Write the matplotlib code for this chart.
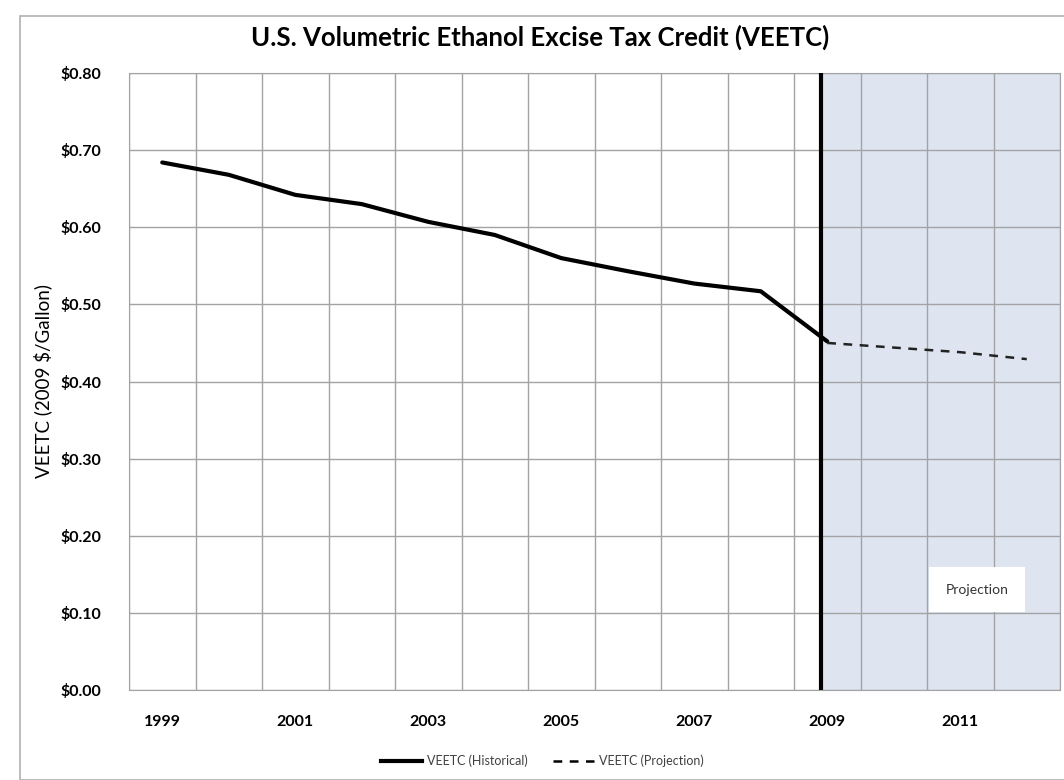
import matplotlib.pyplot as plt
from matplotlib.patches import Rectangle
from matplotlib.lines import Line2D

plt.rcParams['font.family'] = ['Lato', 'DejaVu Sans']

# データ
years = [1999, 2000, 2001, 2002, 2003, 2004, 2005, 2006,
         2007, 2008, 2009, 2010, 2011, 2012]
hist_years = [1999, 2000, 2001, 2002, 2003, 2004, 2005, 2006, 2007, 2008, 2009]
hist_vals = [0.684, 0.668, 0.642, 0.630, 0.607, 0.590, 0.560, 0.543, 0.527, 0.517, 0.452]
proj_years = [2009, 2010, 2011, 2012]
proj_vals = [0.450, 0.444, 0.438, 0.429]
y_ticks = [0.0, 0.1, 0.2, 0.3, 0.4, 0.5, 0.6, 0.7, 0.8]
x_labels = ['1999', '2001', '2003', '2005', '2007', '2009', '2011']

idx = {y: i for i, y in enumerate(years)}

fig = plt.figure(figsize=(10.64, 7.8), dpi=100)
ax = fig.add_axes([129 / 1064, 1 - 690 / 780, 931 / 1064, 617 / 780])

# 外枠
fig.patches.append(Rectangle((20 / 1064, 0), 1.0, 1 - 16 / 780, transform=fig.transFigure,
                             fill=False, edgecolor='#b0b0b0', lw=1.2))

# 予測期間の背景
split = 9.9
ax.axvspan(split, len(years) - 0.5, color='#dee5f1', zorder=0)

# グリッド（カテゴリ境界）
for b in range(len(years) + 1):
    ax.axvline(b - 0.5, color='#a3a3a3', lw=1.0, zorder=1)
for t in y_ticks:
    ax.axhline(t, color='#a3a3a3', lw=1.0, zorder=1)

ax.plot([idx[y] for y in hist_years], hist_vals, color='black', lw=3, zorder=3,
        solid_capstyle='round')
ax.plot([idx[y] for y in proj_years], proj_vals, color='#222222', lw=1.8, ls=(0, (3.5, 3)),
        zorder=3)
ax.axvline(split, color='black', lw=3, zorder=4)

ax.set_xlim(-0.5, len(years) - 0.5)
ax.set_ylim(0, 0.8)
ax.set_yticks(y_ticks)
ax.set_yticklabels([f'${t:.2f}' for t in y_ticks], fontsize=11.5, fontweight='bold')
ax.set_xticks([idx[int(l)] for l in x_labels])
ax.set_xticklabels(x_labels, fontsize=11.5, fontweight='bold')
ax.tick_params(length=0)
ax.tick_params(axis='x', pad=18)
ax.tick_params(axis='y', pad=20)
for s in ax.spines.values():
    s.set_color('#a3a3a3')

ax.set_ylabel('VEETC (2009 $/Gallon)', fontsize=13.5, labelpad=6)

fig.text(0.508, 1 - 37 / 780, 'U.S. Volumetric Ethanol Excise Tax Credit (VEETC)',
         ha='center', va='center', fontsize=18.5, fontweight='bold')

ax.text(12.25, 0.13, 'Projection', fontsize=10, color='#333333',
        va='center', ha='center',
        bbox=dict(facecolor='white', edgecolor='none', boxstyle='square,pad=1.2'))

handles = [Line2D([], [], color='black', lw=3),
           Line2D([], [], color='black', lw=1.8, ls=(0, (3.5, 3)))]
fig.legend(handles, ['VEETC (Historical)', 'VEETC (Projection)'], loc='center',
           bbox_to_anchor=(0.51, 1 - 761 / 780), ncol=2, frameon=False, fontsize=9,
           handlelength=3.3, handletextpad=0.4, columnspacing=2.0, labelcolor='#404040')

fig.savefig('out.png', dpi=100)
